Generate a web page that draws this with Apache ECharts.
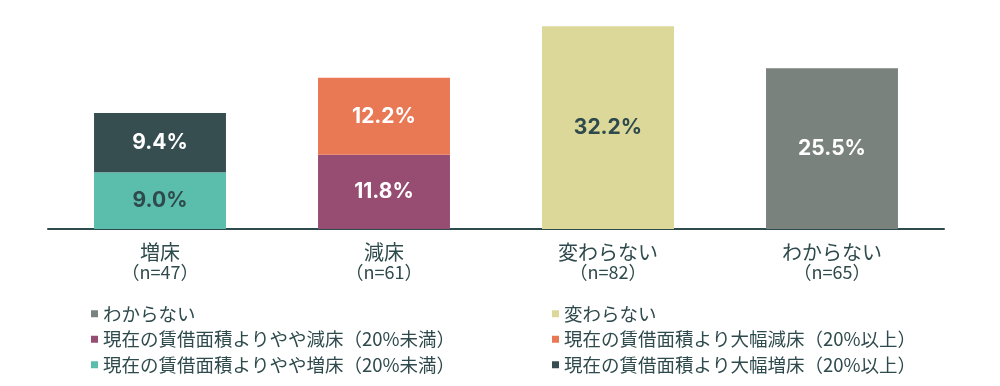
<!DOCTYPE html>
<html>
<head>
<meta charset="utf-8">
<script src="https://cdn.jsdelivr.net/npm/echarts@6/dist/echarts.min.js"></script>
<style>
html,body{margin:0;padding:0;background:#fff;}
#chart{width:1000px;height:386px;}
</style>
</head>
<body>
<div id="chart"></div>
<script>
const categories = ['増床', '減床', '変わらない', 'わからない'];
const sampleSizes = ['（n=47）', '（n=61）', '（n=82）', '（n=65）'];
const seriesNames = [
  '現在の賃借面積よりやや増床（20%未満）',
  '現在の賃借面積より大幅増床（20%以上）',
  '現在の賃借面積よりやや減床（20%未満）',
  '現在の賃借面積より大幅減床（20%以上）',
  '変わらない',
  'わからない'
];
const slightIncrease = [9.0, null, null, null];
const largeIncrease = [9.4, null, null, null];
const slightDecrease = [null, 11.8, null, null];
const largeDecrease = [null, 12.2, null, null];
const noChange = [null, null, 32.2, null];
const unknown = [null, null, null, 25.5];
const seriesValues = [slightIncrease, largeIncrease, slightDecrease, largeDecrease, noChange, unknown];
const seriesColors = ['#5bbdac', '#374e50', '#974d72', '#e97955', '#dcd899', '#7a827d'];
const labelColors = ['#2f4a4c', '#ffffff', '#ffffff', '#ffffff', '#2f4a4c', '#ffffff'];
const legendLeft = ['わからない', '現在の賃借面積よりやや減床（20%未満）', '現在の賃借面積よりやや増床（20%未満）'];
const legendRight = ['変わらない', '現在の賃借面積より大幅減床（20%以上）', '現在の賃借面積より大幅増床（20%以上）'];

const textColor = '#2f4a4c';
const jpFont = '"Noto Sans CJK JP", "Noto Sans", sans-serif';

const chart = echarts.init(document.getElementById('chart'), null, {renderer: 'canvas'});

const legendCommon = {
  orient: 'vertical',
  icon: 'rect',
  itemWidth: 7,
  itemHeight: 7,
  itemGap: 7,
  selectedMode: false,
  textStyle: {color: textColor, fontFamily: jpFont, fontSize: 18.5, lineHeight: 18.5, padding: [0,0,0,0]}
};

const option = {
  backgroundColor: '#ffffff',
  animation: false,
  grid: {left: 48, right: 56, top: 8.5, bottom: 157},
  legend: [
    Object.assign({}, legendCommon, {left: 86, top: 299.5, data: legendLeft}),
    Object.assign({}, legendCommon, {left: 547, top: 299.5, data: legendRight})
  ],
  xAxis: {
    type: 'category',
    data: categories,
    axisLine: {show: true, lineStyle: {color: '#2d4a4c', width: 2}},
    axisTick: {show: false},
    axisLabel: {
      margin: 12,
      interval: 0,
      formatter: function (v, i) { return '{a|' + v + '}\n{b|' + sampleSizes[i] + '}'; },
      rich: {
        a: {fontSize: 20, lineHeight: 22, color: textColor, fontFamily: jpFont},
        b: {fontSize: 18, lineHeight: 18, color: textColor, fontFamily: jpFont}
      }
    }
  },
  yAxis: {
    type: 'value', min: 0, max: 35, show: false,
    splitLine: {show: false}
  },
  series: seriesNames.map(function (name, i) {
    return {
      name: name,
      type: 'bar',
      stack: 'total',
      barWidth: '58.9%',
      data: seriesValues[i],
      itemStyle: {color: seriesColors[i]},
      label: {
        show: true,
        position: 'inside',
        formatter: function (p) { return p.value == null ? '' : p.value.toFixed(1) + '%'; },
        color: labelColors[i],
        fontFamily: 'Inter, "Noto Sans", sans-serif',
        fontWeight: 'bold',
        fontSize: 21
      }
    };
  })
};
chart.setOption(option);
</script>
</body>
</html>
